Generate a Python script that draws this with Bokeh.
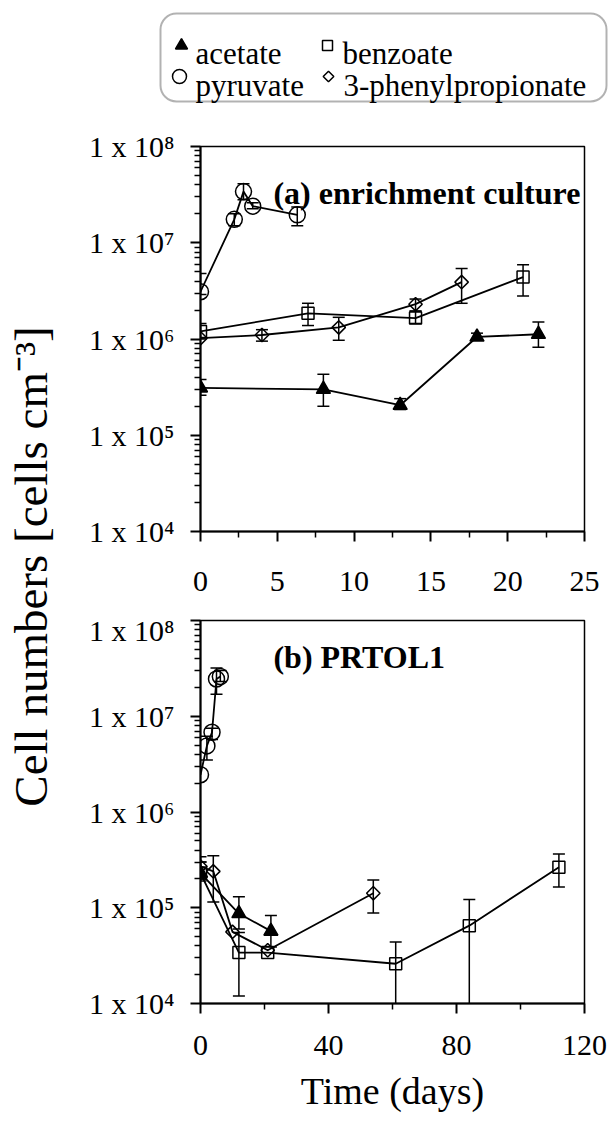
import numpy as np
from bokeh.plotting import figure
from bokeh.models import (Range1d, FixedTicker, Whisker, TeeHead, ColumnDataSource,
                          Label, BoxAnnotation)
from bokeh.layouts import row, column
from bokeh.core.properties import value
from bokeh.embed import file_html
from bokeh.resources import INLINE

# ---------------- data: panel (a) enrichment culture ----------------
a_acetate_day = [0, 8, 13, 18, 22]
a_acetate_val = [3.1e5, 3.0e5, 2.05e5, 1.05e6, 1.12e6]
a_acetate_hi = [3.8e5, 4.3e5, 2.4e5, 1.15e6, 1.5e6]
a_acetate_lo = [2.6e5, 2.0e5, 1.85e5, 1.0e6, 8.2e5]

a_pyruvate_day = [0, 2.2, 2.8, 3.4, 6.3]
a_pyruvate_val = [3.1e6, 1.75e7, 3.4e7, 2.4e7, 1.95e7]
a_pyruvate_hi = [4.8e6, 2.0e7, 4.1e7, 2.6e7, 2.35e7]
a_pyruvate_lo = [2.9e6, 1.5e7, 2.8e7, 2.25e7, 1.5e7]

a_benzoate_day = [0, 7, 14, 21]
a_benzoate_val = [1.2e6, 1.85e6, 1.65e6, 4.4e6]
a_benzoate_hi = [1.45e6, 2.35e6, 1.95e6, 5.9e6]
a_benzoate_lo = [1.0e6, 1.38e6, 1.45e6, 2.8e6]

a_phenyl_day = [0, 4, 9, 14, 17]
a_phenyl_val = [1.02e6, 1.1e6, 1.32e6, 2.3e6, 3.9e6]
a_phenyl_hi = [1.02e6, 1.25e6, 1.68e6, 2.6e6, 5.4e6]
a_phenyl_lo = [1.02e6, 0.95e6, 0.97e6, 1.95e6, 2.35e6]

# ---------------- data: panel (b) PRTOL1 ----------------
b_acetate_day = [0, 12, 22]
b_acetate_val = [2.3e5, 8.7e4, 5.7e4]
b_acetate_hi = [3.0e5, 1.3e5, 8.3e4]
b_acetate_lo = [2.0e5, 6.0e4, 3.9e4]

b_pyruvate_day = [0, 2, 3.6, 5, 6.2]
b_pyruvate_val = [2.45e6, 4.9e6, 6.8e6, 2.45e7, 2.6e7]
b_pyruvate_hi = [2.45e6, 6.2e6, 7.5e6, 3.2e7, 3.0e7]
b_pyruvate_lo = [2.45e6, 3.5e6, 5.7e6, 1.7e7, 2.3e7]

b_benzoate_day = [0, 12, 21, 61, 84, 112]
b_benzoate_val = [2.3e5, 3.4e4, 3.4e4, 2.6e4, 6.5e4, 2.65e5]
b_benzoate_hi = [3.0e5, 5.5e4, 3.4e4, 4.4e4, 1.22e5, 3.65e5]
b_benzoate_lo = [1.9e5, 1.2e4, 3.4e4, 9.5e3, 6.5e3, 1.65e5]

b_phenyl_day = [0, 4, 10, 21, 54]
b_phenyl_val = [2.7e5, 2.4e5, 5.6e4, 3.6e4, 1.42e5]
b_phenyl_hi = [3.4e5, 3.5e5, 5.6e4, 3.6e4, 1.95e5]
b_phenyl_lo = [2.2e5, 1.15e5, 5.6e4, 3.6e4, 8.8e4]

series_names = ["acetate", "benzoate", "pyruvate", "3-phenylpropionate"]
a_x_ticks = [0, 5, 10, 15, 20, 25]
b_x_ticks = [0, 40, 80, 120]
y_decades = [4, 5, 6, 7, 8]
SUP = {4: "\u2074", 5: "\u2075", 6: "\u2076", 7: "\u2077", 8: "\u2078"}

FONT = "Liberation Serif"
BLACK = "black"

MARKERS = {
    "acetate": dict(marker="triangle", size=14, fill_color=BLACK, angle=0.0),
    "benzoate": dict(marker="square", size=12, fill_color=None, angle=0.0),
    "pyruvate": dict(marker="circle", size=16, fill_color=None, angle=0.0),
    "3-phenylpropionate": dict(marker="square", size=9.5, fill_color=None, angle=np.pi / 4),
}


def make_panel(height, top, bottom, xr, xmajor, xminor, xstandoff):
    p = figure(width=551, height=height, x_range=Range1d(*xr), y_range=Range1d(1e4, 1e8),
               y_axis_type="log", output_backend="svg", toolbar_location=None,
               min_border_left=140, min_border_right=27, min_border_top=top,
               min_border_bottom=bottom)
    p.xgrid.visible = False
    p.ygrid.visible = False
    p.outline_line_color = BLACK
    p.outline_line_width = 1.5
    p.background_fill_color = "white"
    p.border_fill_color = "white"

    xa = p.xaxis[0]
    xa.ticker = FixedTicker(ticks=xmajor, minor_ticks=xminor)
    ya = p.yaxis[0]
    ya.ticker = FixedTicker(ticks=[10 ** k for k in y_decades],
                            minor_ticks=[m * 10 ** k for k in y_decades[:-1] for m in range(2, 10)])
    ya.major_label_overrides = {10 ** k: "1 x 10" + SUP[k] for k in y_decades}
    for ax in (xa, ya):
        ax.axis_line_width = 2
        ax.axis_line_color = BLACK
        ax.major_tick_line_width = 2
        ax.minor_tick_line_width = 1.5
        ax.major_tick_line_color = BLACK
        ax.minor_tick_line_color = BLACK
        ax.major_tick_in = 0
        ax.minor_tick_in = 0
        ax.major_tick_out = 10
        ax.minor_tick_out = 6
        ax.major_label_text_font = FONT
        ax.major_label_text_font_size = "30px"
        ax.major_label_text_color = BLACK
    xa.major_label_standoff = xstandoff
    ya.major_label_standoff = 16
    return p


def add_series(p, name, day, val, hi, lo):
    p.line(day, val, line_color=BLACK, line_width=1.8)
    idx = [i for i in range(len(day)) if hi[i] != lo[i]]
    if idx:
        src = ColumnDataSource(dict(x=[day[i] for i in idx], hi=[hi[i] for i in idx],
                                    lo=[lo[i] for i in idx]))
        w = Whisker(source=src, base="x", upper="hi", lower="lo", line_color=BLACK,
                    line_width=1.5,
                    upper_head=TeeHead(size=12, line_width=1.5, line_color=BLACK),
                    lower_head=TeeHead(size=12, line_width=1.5, line_color=BLACK))
        p.add_layout(w)
    m = MARKERS[name]
    p.scatter(day, val, marker=m["marker"], size=m["size"], fill_color=m["fill_color"],
              line_color=BLACK, line_width=1.5, angle=m["angle"])


# ---------------- panel (a) ----------------
pa = make_panel(495, 28, 82, (0, 25), a_x_ticks, [2.5, 7.5, 12.5, 17.5, 22.5], 30)
add_series(pa, "pyruvate", a_pyruvate_day, a_pyruvate_val, a_pyruvate_hi, a_pyruvate_lo)
add_series(pa, "benzoate", a_benzoate_day, a_benzoate_val, a_benzoate_hi, a_benzoate_lo)
add_series(pa, "3-phenylpropionate", a_phenyl_day, a_phenyl_val, a_phenyl_hi, a_phenyl_lo)
add_series(pa, "acetate", a_acetate_day, a_acetate_val, a_acetate_hi, a_acetate_lo)
pa.add_layout(Label(x=4.75, y=10 ** 7.512, text="(a) enrichment culture", text_font=FONT,
                    text_font_size="32px", text_font_style="bold", text_color=BLACK,
                    text_align="left", text_baseline="alphabetic"))

# ---------------- panel (b) ----------------
pb = make_panel(509, 7, 119, (0, 120), b_x_ticks, [20, 60, 100], 22)
add_series(pb, "pyruvate", b_pyruvate_day, b_pyruvate_val, b_pyruvate_hi, b_pyruvate_lo)
add_series(pb, "benzoate", b_benzoate_day, b_benzoate_val, b_benzoate_hi, b_benzoate_lo)
add_series(pb, "3-phenylpropionate", b_phenyl_day, b_phenyl_val, b_phenyl_hi, b_phenyl_lo)
add_series(pb, "acetate", b_acetate_day, b_acetate_val, b_acetate_hi, b_acetate_lo)
pb.add_layout(Label(x=22.8, y=10 ** 7.614, text="(b) PRTOL1", text_font=FONT,
                    text_font_size="32px", text_font_style="bold", text_color=BLACK,
                    text_align="left", text_baseline="alphabetic"))
pb.xaxis[0].axis_label = "Time (days)"
pb.xaxis[0].axis_label_text_font = FONT
pb.xaxis[0].axis_label_text_font_size = "38px"
pb.xaxis[0].axis_label_text_font_style = "normal"
pb.xaxis[0].axis_label_text_color = BLACK
pb.xaxis[0].axis_label_standoff = 12

# ---------------- legend strip (coordinates = page pixels) ----------------
pl = figure(width=611, height=118, x_range=Range1d(0, 611), y_range=Range1d(118, 0),
            output_backend="svg", toolbar_location=None, min_border=0,
            x_axis_location=None, y_axis_location=None)
pl.xgrid.visible = False
pl.ygrid.visible = False
pl.outline_line_color = None
pl.add_layout(BoxAnnotation(left=160, right=606, top=13, bottom=101, border_radius=16,
                            fill_alpha=0, line_color=BLACK, line_width=2))
leg_x_mark = [181, 327, 179, 328]
leg_y_mark = [45, 45, 76, 76]
leg_x_text = [195, 342, 195, 343]
leg_y_text = [53, 53, 85, 85]
leg_order = ["acetate", "benzoate", "pyruvate", "3-phenylpropionate"]
for i, name in enumerate(leg_order):
    m = MARKERS[name]
    pl.scatter([leg_x_mark[i]], [leg_y_mark[i]], marker=m["marker"],
               size=m["size"] - 2, fill_color=m["fill_color"], line_color=BLACK,
               line_width=1.5, angle=m["angle"])
pl.text(x=leg_x_text, y=leg_y_text, text=leg_order, text_font=value(FONT),
        text_font_size="31px", text_color=BLACK, text_align="left",
        text_baseline="alphabetic")

# ---------------- y label strip ----------------
py = figure(width=60, height=1004, x_range=Range1d(0, 60), y_range=Range1d(1122, 118),
            output_backend="svg", toolbar_location=None, min_border=0,
            x_axis_location=None, y_axis_location=None)
py.xgrid.visible = False
py.ygrid.visible = False
py.outline_line_color = None
py.add_layout(Label(x=30, y=566, text="Cell numbers [cells cm\u207b\u00b3]", angle=np.pi / 2,
                    text_font=FONT, text_font_size="47px", text_color=BLACK,
                    text_align="center", text_baseline="middle"))

layout = column(pl, row(py, column(pa, pb)))
open("out.html", "w").write(file_html(layout, INLINE))
